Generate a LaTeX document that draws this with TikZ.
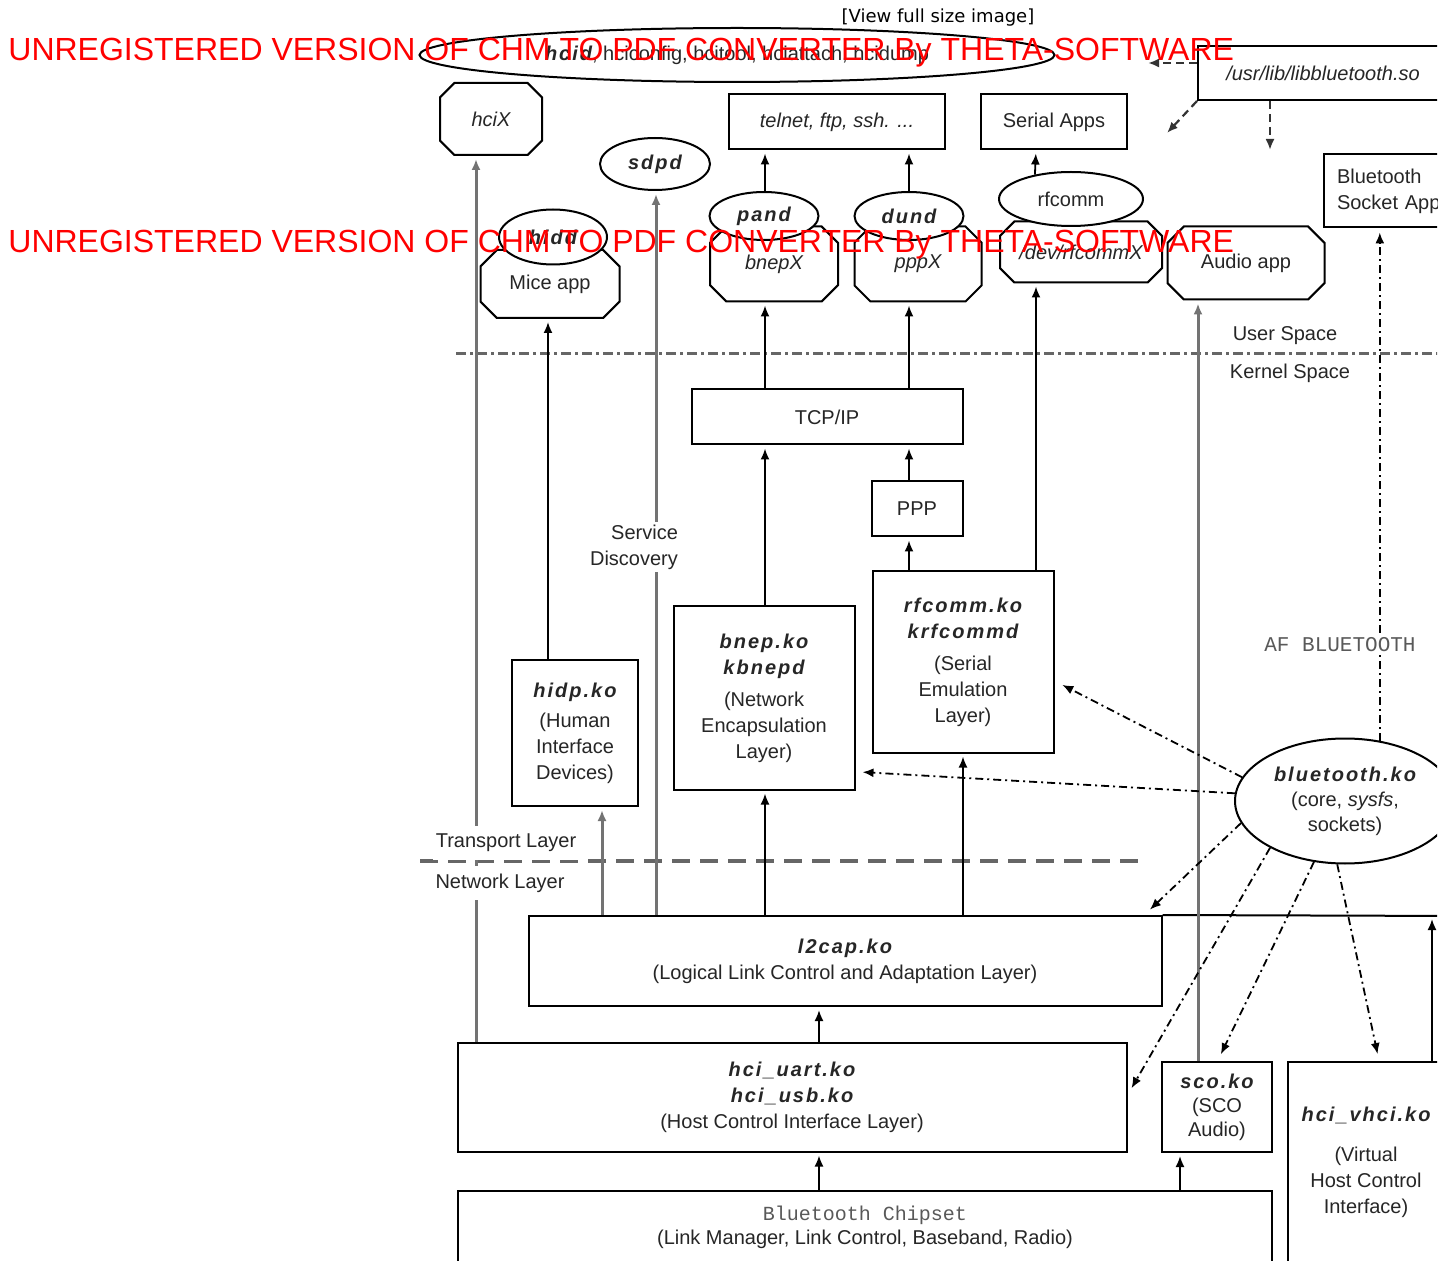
\documentclass[tikz,border=0pt]{standalone}
\usepackage{fontspec}
\setmainfont{Liberation Sans}
\setmonofont{Liberation Mono}
\newfontfamily\kofont[LetterSpace=10]{Liberation Sans}
\newfontfamily\webfont{DejaVu Sans}
\usetikzlibrary{positioning,shapes.geometric,shapes.misc,arrows.meta}

\newcommand{\ko}[1]{{\kofont\bfseries\itshape #1}}

\tikzset{
  box/.style={draw, line width=1pt, fill=white, align=center, inner sep=2pt},
  oval/.style={ellipse, draw, line width=1pt, fill=white, inner sep=0pt, align=center},
  octa/.style={chamfered rectangle, chamfered rectangle xsep=#1, draw, line width=1pt, fill=white, inner sep=0pt},
  octa/.default=9pt,
  lbl/.style={fill=white, inner sep=1.5pt, align=center},
  mono/.style={font=\ttfamily\fontsize{10.5}{13}\selectfont, text=black!65},
  arr/.style={-{Latex[length=5.5pt,width=4.5pt]}, line width=0.9pt, shorten >=1.5pt},
  lane/.style={arr, draw=black!55, line width=1.5pt},
  dd/.style={-{Latex[length=5.5pt,width=4.5pt]}, line width=0.9pt, dash pattern=on 4pt off 2pt on 1pt off 2pt, shorten >=1pt},
  dsh/.style={-{Latex[length=5.5pt,width=4.5pt]}, line width=1.1pt, dash pattern=on 4pt off 2.5pt, draw=black!80},
  wm/.style={text=red, font=\fontsize{16}{19}\selectfont, anchor=base west, inner sep=0pt}
}

\begin{document}
\begin{tikzpicture}[x=0.5pt, y=-0.5pt, font=\fontsize{10}{13}\selectfont, text=black!85]

\useasboundingbox (0,0) rectangle (1452,1262);

\begin{scope}
\clip (0,0) rectangle (1437,1260);

% user space tools
\node[oval, minimum width=317.5pt, minimum height=27pt] (hcid) at (737,55)
  {\ko{hcid}, hciconfig, hcitool, hciattach, hcidump};
\node[box, minimum width=125pt, minimum height=27pt] (libbt) at (1323,73) {\itshape /usr/lib/libbluetooth.so};
\node[octa=10pt, minimum width=51pt, minimum height=36pt] (hcix) at (491,119) {\itshape hciX};
\node[oval, minimum width=55pt, minimum height=26pt] (sdpd) at (655,164) {\ko{sdpd}};
\node[box, minimum width=108pt, minimum height=27.5pt] (telnet) at (837,122) {\itshape telnet, ftp, ssh. ...};
\node[box, minimum width=73pt, minimum height=27.5pt] (serial) at (1054,122) {Serial Apps};
\node[box, minimum width=73pt, minimum height=36.5pt, text width=60pt, align=left] (sockapp) at (1397,191) {Bluetooth\\Socket App};

\node[octa, minimum width=69.5pt, minimum height=34pt] (mice) at (550,284) {Mice app};
\node[oval, minimum width=54pt, minimum height=27.5pt] (hidd) at (553,237) {\ko{hidd}};
\node[octa, minimum width=64pt, minimum height=37.5pt] (bnepx) at (774,264) {\itshape bnepX};
\node[oval, minimum width=54.5pt, minimum height=24pt] (pand) at (764,216) {\ko{pand}};
\node[octa, minimum width=63.5pt, minimum height=37.5pt] (pppx) at (918,264) {\itshape pppX};
\node[oval, minimum width=54.5pt, minimum height=24pt] (dund) at (909,216) {\ko{dund}};
\node[octa, minimum width=81pt, minimum height=30.5pt] (rfcx) at (1081,252) {\itshape /dev/rfcommX};
\node[oval, minimum width=72pt, minimum height=27pt] (rfcomm) at (1071,199) {rfcomm};
\node[octa, minimum width=78.5pt, minimum height=36.5pt] (audio) at (1246,263) {Audio app};

% kernel
\node[box, minimum width=135.5pt, minimum height=27.5pt] (tcpip) at (827,417) {TCP/IP};
\node[box, minimum width=45.5pt, minimum height=27.5pt] (ppp) at (917,509) {PPP};
\node[box, minimum width=90.5pt, minimum height=91.5pt] (bnepko) at (764,698)
  {\ko{bnep.ko}\\\ko{kbnepd}\\[3pt](Network\\Encapsulation\\Layer)};
\node[box, minimum width=90.5pt, minimum height=90.5pt] (rfcko) at (963,662)
  {\ko{rfcomm.ko}\\\ko{krfcommd}\\[3pt](Serial\\Emulation\\Layer)};
\node[box, minimum width=63pt, minimum height=73pt] (hidpko) at (575,733)
  {\ko{hidp.ko}\\[2pt](Human\\Interface\\Devices)};
\node[oval, minimum width=110pt, minimum height=62.5pt] (btko) at (1345,801)
  {\ko{bluetooth.ko}\\[-0.5pt](core, \textit{sysfs},\\[-0.5pt]sockets)};
\node[box, minimum width=316.5pt, minimum height=45pt] (l2cap) at (845,961)
  {\ko{l2cap.ko}\\(Logical Link Control and Adaptation Layer)};
\node[box, minimum width=334.5pt, minimum height=54.5pt] (hciuart) at (792,1097)
  {\ko{hci\_uart.ko}\\\ko{hci\_usb.ko}\\(Host Control Interface Layer)};
\node[box, minimum width=55pt, minimum height=45pt] (sco) at (1217,1107)
  {\ko{sco.ko}\\[-1pt](SCO\\[-1pt]Audio)};
\node[box, minimum width=78pt, minimum height=100pt] (vhci) at (1366,1162)
  {\ko{hci\_vhci.ko}\\[7pt](Virtual\\Host Control\\Interface)};
\node[box, minimum width=407pt, minimum height=36pt] (chip) at (865,1227)
  {{\ttfamily\color{black!65}Bluetooth Chipset}\\[-1pt](Link Manager, Link Control, Baseband, Radio)};

% lanes of the vertical connectors
\foreach \n/\x in {hcixL/476, miceL/548, hidpL/602, sdpdL/656, bnepL/765, pppL/909,
                   rfcL/963, devL/1036, audioL/1198, hciL/819, scoL/1180, vhciL/1432}
  \coordinate (\n) at (\x,0);
\coordinate (edgeR) at (1460,916);
\coordinate (ukL) at (456,354);
\coordinate (ukR) at (1440,354);
\coordinate (tnL) at (420,861);
\coordinate (tnR) at (1143,861);
\coordinate (libA) at (1148,63);
\coordinate (libB) at (1167,133);
\coordinate (libC) at (1270,150);

\draw[line width=1.5pt, draw=black!60, dash pattern=on 5pt off 2pt on 1.5pt off 2pt] (ukL) -- (ukR);
\draw[line width=1.6pt, draw=black!60, dash pattern=on 9pt off 5pt] (tnL) -- (tnR);

\draw[line width=1pt] (l2cap.north east) -- (edgeR);

\draw[lane] (hciuart.north -| hcixL) -- (hcix.south -| hcixL);
\draw[arr] (hidpko.north -| miceL) -- (mice.south -| miceL);
\draw[lane] (l2cap.north -| hidpL) -- (hidpko.south -| hidpL);
\draw[lane] (l2cap.north -| sdpdL) -- (sdpd.south -| sdpdL);
\draw[arr] (l2cap.north -| bnepL) -- (bnepko.south -| bnepL);
\draw[arr] (bnepko.north -| bnepL) -- (tcpip.south -| bnepL);
\draw[arr] (tcpip.north -| bnepL) -- (bnepx.south -| bnepL);
\draw[arr] (pand.north -| bnepL) -- (telnet.south -| bnepL);
\draw[arr] (rfcko.north -| pppL) -- (ppp.south -| pppL);
\draw[arr] (ppp.north -| pppL) -- (tcpip.south -| pppL);
\draw[arr] (tcpip.north -| pppL) -- (pppx.south -| pppL);
\draw[arr] (dund.north -| pppL) -- (telnet.south -| pppL);
\draw[arr] (l2cap.north -| rfcL) -- (rfcko.south -| rfcL);
\draw[arr] (rfcko.north -| devL) -- (rfcx.south -| devL);
\draw[arr] (rfcomm.146) -- (serial.south -| devL);
\draw[lane] (sco.north -| audioL) -- (audio.south -| audioL);
\draw[arr] (hciuart.north -| hciL) -- (l2cap.south -| hciL);
\draw[arr] (chip.north -| hciL) -- (hciuart.south -| hciL);
\draw[arr] (chip.north -| scoL) -- (sco.south -| scoL);
\draw[arr] (vhci.north -| vhciL) -- (edgeR -| vhciL);

% bluetooth.ko links
\draw[dd] (btko.167) -- ([xshift=3pt,yshift=-11pt]rfcko.east);
\draw[dd] (btko.176) -- ([xshift=2.5pt,yshift=-37pt]bnepko.east);
\draw[dd] (btko.192) -- ([xshift=-7pt,yshift=2pt]l2cap.north east);
\draw[dd] (btko.212) -- ([xshift=1.5pt,yshift=3.5pt]hciuart.east);
\draw[dd] (btko.243) -- ([xshift=1.5pt,yshift=2.5pt]sco.north);
\draw[dd] (btko.263) -- ([xshift=6pt,yshift=2.5pt]vhci.north);
\draw[dd, shorten >=2pt] (btko.60) -- (btko.60 |- sockapp.south);

% libbluetooth links
\draw[dsh] ([yshift=5pt]libbt.west) -- (libA);
\draw[dsh] (libbt.south west) -- (libB);
\draw[dsh] (libbt.south -| libC) -- (libC);

% labels
\node (user) at (1285,336) {User Space};
\node (kernel) at (1290,373) {Kernel Space};
\node[lbl, inner ysep=4pt] (trans) at (506,843) {Transport Layer};
\node[lbl, inner ysep=4pt] (net) at (500,883) {Network Layer};
\node[lbl, align=right] (sdisc) at (634,547) {Service\\Discovery};
\node[lbl, mono] (af) at (1340,645) {AF BLUETOOTH};
\end{scope}

\node[font=\webfont\fontsize{9}{11}\selectfont, text=black] (view) at (938,18) {[View full size image]};
\node[wm] (wmA) at (8,61) {UNREGISTERED VERSION OF CHM TO PDF CONVERTER By THETA-SOFTWARE};
\node[wm] (wmB) at (8,253) {UNREGISTERED VERSION OF CHM TO PDF CONVERTER By THETA-SOFTWARE};
\end{tikzpicture}
\end{document}
